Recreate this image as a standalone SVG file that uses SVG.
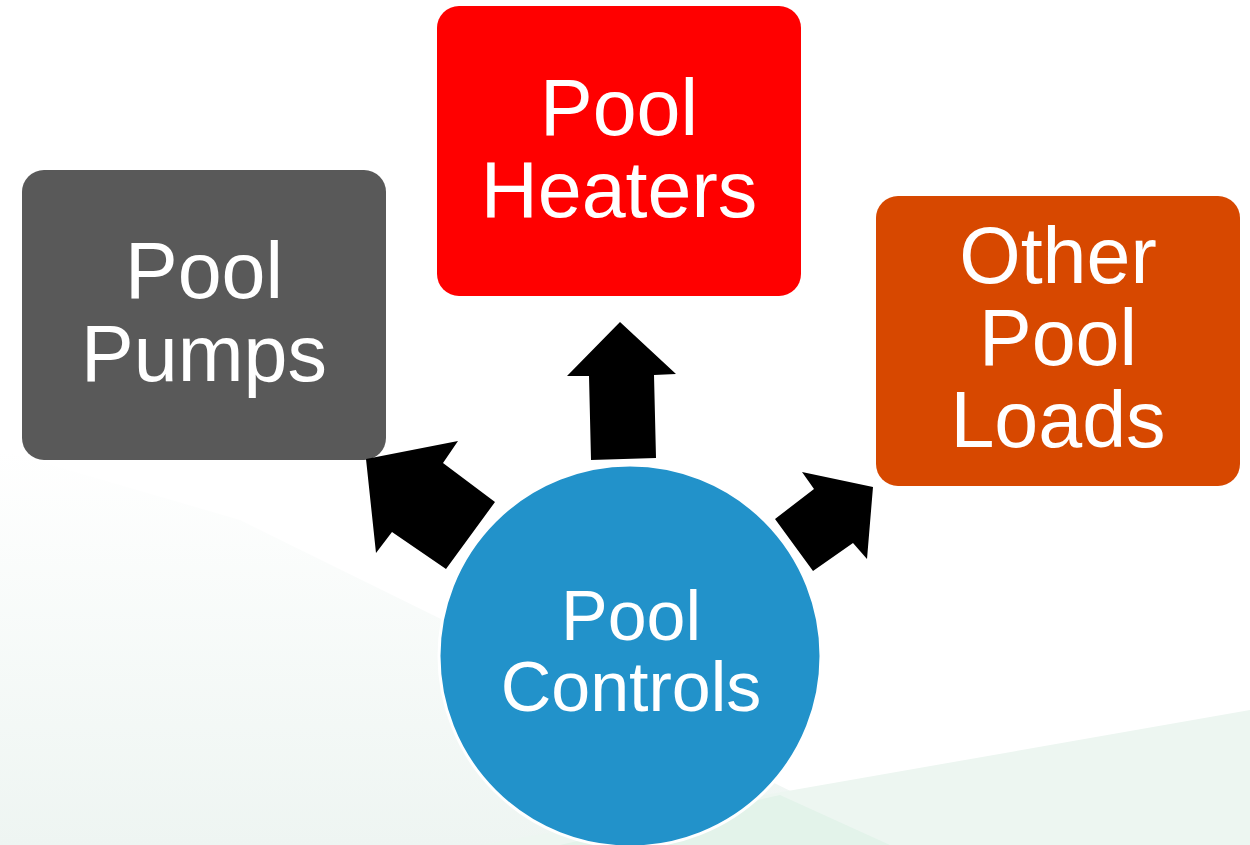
<svg xmlns="http://www.w3.org/2000/svg" width="1250" height="845" viewBox="0 0 1250 845">
<defs>
<style>
.lbl{font-family:"Liberation Sans",Arial,sans-serif;fill:#fff;text-anchor:middle}
.big{font-size:79px}
.mid{font-size:70px}
.arrow{fill:#000}
</style>
<linearGradient id="bgL" x1="0" y1="0" x2="0" y2="1">
<stop offset="0" stop-color="#ffffff"/>
<stop offset="1" stop-color="#eef5f2"/>
</linearGradient>
</defs>
<rect width="1250" height="845" fill="#fff"/>
<polygon points="0,450 240,520 900,845 0,845" fill="url(#bgL)"/>
<polygon points="480,845 1250,710 1250,845" fill="#edf6f1"/>
<polygon points="560,845 780,795 890,845" fill="#e3f3ea"/>

<g id="pool-pumps">
<rect x="22" y="170" width="364" height="290" rx="22" fill="#595959"/>
<text class="lbl big" x="204" y="298">Pool</text>
<text class="lbl big" x="204" y="381">Pumps</text>
</g>
<g id="pool-heaters">
<rect x="437" y="6" width="364" height="290" rx="22" fill="#ff0000"/>
<text class="lbl big" x="619" y="135">Pool</text>
<text class="lbl big" x="619" y="217">Heaters</text>
</g>
<g id="other-pool-loads">
<rect x="876" y="196" width="364" height="290" rx="22" fill="#d74800"/>
<text class="lbl big" x="1058" y="283">Other</text>
<text class="lbl big" x="1058" y="365">Pool</text>
<text class="lbl big" x="1058" y="447">Loads</text>
</g>
<g id="connectors">
<polygon class="arrow" points="591,460 656,458 654,375 676,374 620,322 567,376 589,376"/>
<polygon class="arrow" points="446,569 495,502 443,463 458,441 366,459 376,553 392,532"/>
<polygon class="arrow" points="813,571 775,519 814,489 802,472 873,487 867,559 853,543"/>
</g>
<g id="pool-controls">
<circle cx="630" cy="656" r="191" fill="#2292ca" stroke="#fff" stroke-width="3"/>
<text class="lbl mid" x="631" y="640">Pool</text>
<text class="lbl mid" x="631" y="711">Controls</text>
</g>
</svg>
